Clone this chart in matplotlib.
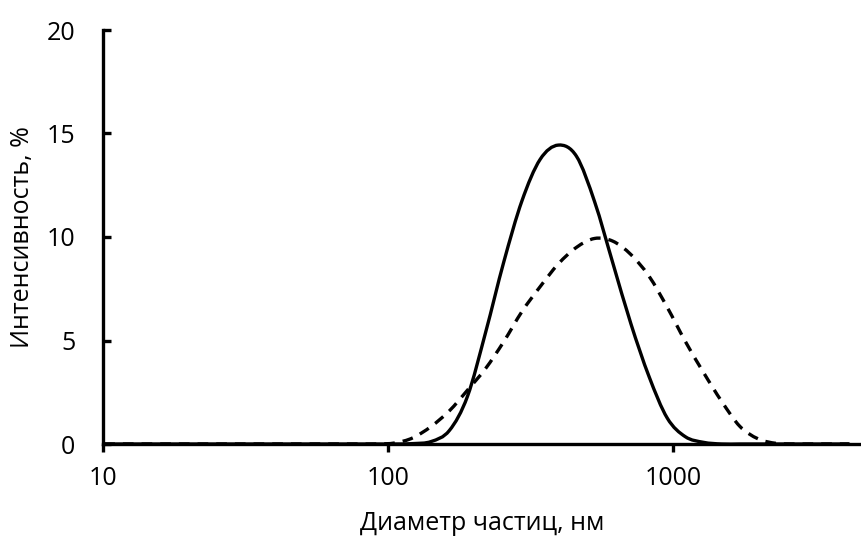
import matplotlib
matplotlib.use("Agg")
import matplotlib.pyplot as plt
from matplotlib.path import Path
from matplotlib.patches import PathPatch
import numpy as np

# size bins, nm
diam = [10.1, 11.7, 13.54, 15.69, 18.17, 21.04, 24.36, 28.21, 32.67, 37.84,
        43.82, 50.75, 58.77, 68.06, 78.82, 91.28, 105.7, 122.4, 141.8, 164.2,
        190.1, 220.2, 255.0, 295.3, 342.0, 396.1, 458.7, 531.2, 615.1, 712.4,
        825.0, 955.4, 1106, 1281, 1484, 1718, 1990, 2305, 2669, 3091, 3580, 4145]

# intensity, %  (solid curve)
int_solid = [0, 0, 0, 0, 0, 0, 0, 0, 0, 0,
             0, 0, 0, 0, 0, 0, 0, 0.02, 0.12, 0.65,
             2.3, 5.4, 8.8, 11.75, 13.75, 14.44, 13.9, 11.7, 8.75, 5.8,
             3.25, 1.25, 0.35, 0.08, 0, 0, 0, 0, 0, 0, 0, 0]

# intensity, %  (dashed curve)
int_dash = [0, 0, 0, 0, 0, 0, 0, 0, 0, 0,
            0, 0, 0, 0, 0, 0, 0.05, 0.3, 0.85, 1.6,
            2.6, 3.65, 4.95, 6.4, 7.6, 8.7, 9.5, 9.93, 9.8, 9.15,
            8.1, 6.6, 4.95, 3.45, 2.05, 0.85, 0.25, 0.03, 0, 0, 0, 0]

yticks = [0, 5, 10, 15, 20]
xticks = [10, 100, 1000]


def smooth_path(x, y):
    # excel-like smoothed line: catmull-rom -> cubic bezier, in log10(x) space
    u = np.log10(np.asarray(x, float))
    y = np.asarray(y, float)
    n = len(u)
    verts = [(u[0], y[0])]
    codes = [Path.MOVETO]
    for i in range(n - 1):
        i0 = max(i - 1, 0)
        i3 = min(i + 2, n - 1)
        c1 = (u[i] + (u[i + 1] - u[i0]) / 6, y[i] + (y[i + 1] - y[i0]) / 6)
        c2 = (u[i + 1] - (u[i3] - u[i]) / 6, y[i + 1] - (y[i3] - y[i]) / 6)
        verts += [c1, c2, (u[i + 1], y[i + 1])]
        codes += [Path.CURVE4] * 3
    verts = np.array(verts)
    verts[:, 0] = 10 ** verts[:, 0]
    return Path(verts, codes)


plt.rcParams['font.family'] = ['Open Sans', 'DejaVu Sans']

fig = plt.figure(figsize=(8.61, 5.42), dpi=100)
ax = fig.add_axes([103/861, 1-444/542, 1-103/861, (444-30)/542])

ax.add_patch(PathPatch(smooth_path(diam, int_solid), fill=False, edgecolor='k',
                       lw=2.4, capstyle='round', zorder=3))
ax.add_patch(PathPatch(smooth_path(diam, int_dash), fill=False, edgecolor='k',
                       lw=2.4, linestyle=(0, (3.2, 2.4)), capstyle='butt', zorder=3))

ax.set_xscale('log')
ax.set_xlim(10, 10**3.66)
ax.set_ylim(0, 20)
ax.set_xticks(xticks)
ax.set_xticklabels([str(v) for v in xticks])
ax.xaxis.set_minor_locator(matplotlib.ticker.NullLocator())
ax.set_yticks(yticks)

for s in ['top', 'right']:
    ax.spines[s].set_visible(False)
for s in ['left', 'bottom']:
    ax.spines[s].set_linewidth(2.4)

ax.tick_params(axis='x', direction='out', length=6, width=2.4, pad=10, labelsize=18)
ax.tick_params(axis='y', direction='in', length=6, width=2.4, pad=20, labelsize=18)

ax.set_xlabel('Диаметр частиц, нм', fontsize=18, labelpad=14)
ax.set_ylabel('Интенсивность, %', fontsize=18, labelpad=8)

fig.savefig('out.png', dpi=100)
